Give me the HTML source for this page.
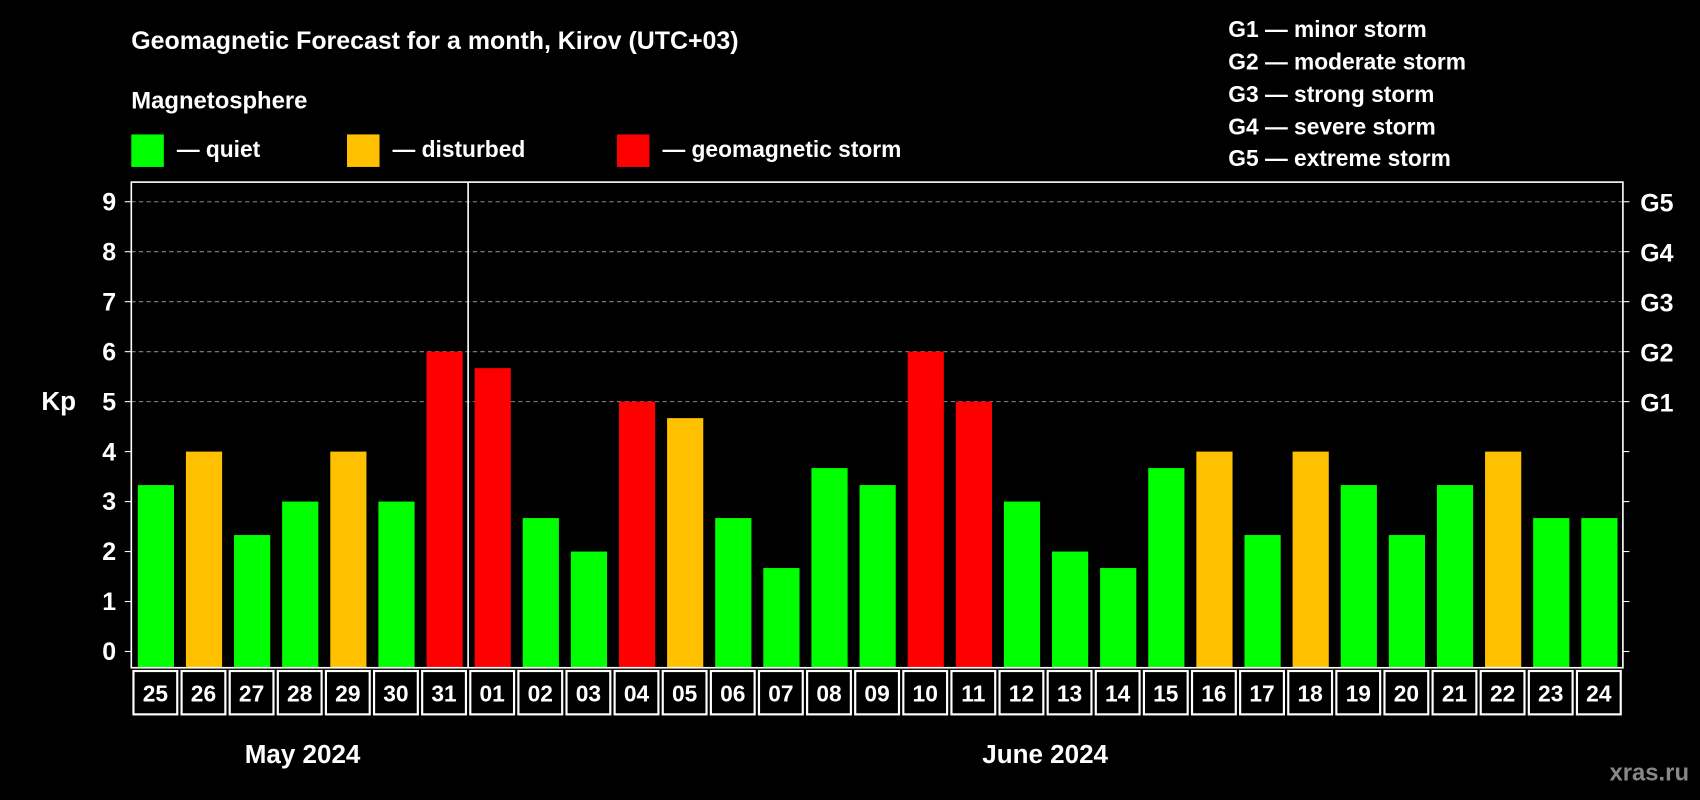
<!DOCTYPE html>
<html><head><meta charset="utf-8"><style>
html,body{margin:0;padding:0;background:#000;}
svg{display:block;font-family:"Liberation Sans",Arial,sans-serif;font-weight:bold;}
</style></head><body>
<svg id="chart" width="1700" height="800" viewBox="0 0 1568 738" xmlns="http://www.w3.org/2000/svg">
<rect width="1568" height="738" fill="#000"/>
<text x="121" y="45" fill="#fff" font-size="23">Geomagnetic Forecast for a month, Kirov (UTC+03)</text>
<text x="121" y="100" fill="#fff" font-size="22">Magnetosphere</text>
<rect x="121" y="124" width="30" height="30" fill="#00ff00"/>
<text x="163" y="145" fill="#fff" font-size="21">— quiet</text>
<rect x="320" y="124" width="30" height="30" fill="#ffc000"/>
<text x="362" y="145" fill="#fff" font-size="21">— disturbed</text>
<rect x="569" y="124" width="30" height="30" fill="#ff0000"/>
<text x="611" y="145" fill="#fff" font-size="21">— geomagnetic storm</text>
<g fill="#fff" font-size="21">
<text x="1133" y="34">G1 — minor storm</text>
<text x="1133" y="64">G2 — moderate storm</text>
<text x="1133" y="94">G3 — strong storm</text>
<text x="1133" y="124">G4 — severe storm</text>
<text x="1133" y="153">G5 — extreme storm</text>
</g>
<text x="38" y="378" fill="#fff" font-size="24">Kp</text>
<g id="plot"></g>
<text x="279" y="704" fill="#fff" font-size="24" text-anchor="middle">May 2024</text>
<text x="964" y="704" fill="#fff" font-size="24" text-anchor="middle">June 2024</text>
<text x="1558" y="720" fill="#888" font-size="22" text-anchor="end">xras.ru</text>
</svg>
<script>
const days=["25","26","27","28","29","30","31","01","02","03","04","05","06","07","08","09","10","11","12","13","14","15","16","17","18","19","20","21","22","23","24"];
const kp=[3.33,4,2.33,3,4,3,6,5.67,2.67,2,5,4.67,2.67,1.67,3.67,3.33,6,5,3,2,1.67,3.67,4,2.33,4,3.33,2.33,3.33,4,2.67,2.67];
const yTicks=[0,1,2,3,4,5,6,7,8,9];
const gLabels=["","","","","","G1","G2","G3","G4","G5"];
const NS="http://www.w3.org/2000/svg";
const g=document.getElementById('plot');
const L=121,R=1497,T=168,B=616;
const y=v=>601-v*46.1;
const step=(R-L)/days.length;
const x=i=>L+i*step;
function mk(tag,attrs){const e=document.createElementNS(NS,tag);for(const k in attrs)e.setAttribute(k,attrs[k]);g.appendChild(e);return e;}
yTicks.forEach((v,i)=>{
  if(v>=5){const l=mk('line',{x1:L,x2:R,y1:y(v),y2:y(v),stroke:'#888','stroke-dasharray':'4,3','stroke-width':1});
  
  }
  const t1=mk('line',{x1:L-6,x2:L,y1:y(v),y2:y(v),stroke:'#fff'});
  
  
  const t2=mk('line',{x1:R,x2:R+6,y1:y(v),y2:y(v),stroke:'#fff'});
  
  
  const tl=mk('text',{x:L-14,y:y(v)+8,fill:'#fff','font-size':23,'text-anchor':'end'});tl.textContent=v;
  
  
  if(gLabels[i]){const gl=mk('text',{x:R+16,y:y(v)+9,fill:'#fff','font-size':23});gl.textContent=gLabels[i];
  
  }
});
kp.forEach((v,i)=>{
  const c=v>=5?'#ff0000':(v>=4?'#ffc000':'#00ff00');
  const b=mk('rect',{x:x(i)+6,y:y(v),width:step-11,height:B-y(v),fill:c});
  
  
  const cell=mk('rect',{x:x(i)+2,y:B+3,width:step-4,height:40,fill:'none',stroke:'#fff','stroke-width':2});
  
  
  const t=mk('text',{x:x(i)+step/2,y:B+31,fill:'#fff','font-size':21,'text-anchor':'middle'});t.textContent=days[i];
  
  
});
const f=mk('rect',{x:L,y:T,width:R-L,height:B-T,fill:'none',stroke:'#fff','stroke-width':1.5});


const d=mk('line',{x1:x(7),x2:x(7),y1:T,y2:B,stroke:'#fff','stroke-width':1.5});


</script>
</body></html>
